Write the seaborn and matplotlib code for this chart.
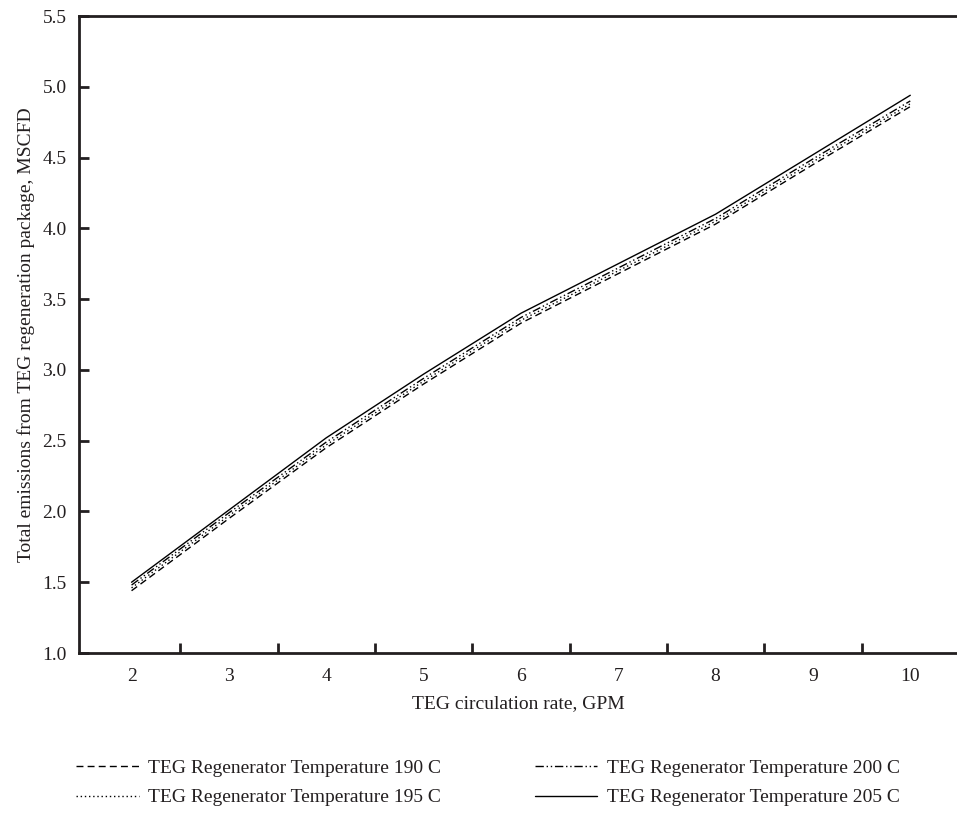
import matplotlib
matplotlib.use("Agg")
import matplotlib.pyplot as plt
import seaborn as sns
import pandas as pd
from matplotlib.lines import Line2D

rate = [2, 3, 4, 5, 6, 7, 8, 9, 10]
t190 = [1.44, 1.95, 2.45, 2.90, 3.33, 3.68, 4.03, 4.45, 4.86]
t195 = [1.46, 1.97, 2.47, 2.92, 3.35, 3.70, 4.05, 4.47, 4.88]
t200 = [1.48, 1.99, 2.49, 2.94, 3.37, 3.72, 4.07, 4.49, 4.90]
t205 = [1.50, 2.01, 2.52, 2.97, 3.40, 3.75, 4.10, 4.52, 4.94]
labels = ["TEG Regenerator Temperature 190 C",
          "TEG Regenerator Temperature 195 C",
          "TEG Regenerator Temperature 200 C",
          "TEG Regenerator Temperature 205 C"]
yticks = [1.0, 1.5, 2.0, 2.5, 3.0, 3.5, 4.0, 4.5, 5.0, 5.5]

FS = 14
sns.set_style("white")
plt.rcParams['font.family'] = ['Liberation Serif', 'DejaVu Serif']
plt.rcParams['font.size'] = FS

rows = []
for lab, vals in zip(labels, [t190, t195, t200, t205]):
    for x, y in zip(rate, vals):
        rows.append({"rate": x, "emis": y, "series": lab})
df = pd.DataFrame(rows)

dash_map = {labels[0]: (5, 3), labels[1]: (1, 2),
            labels[2]: (6, 2, 1, 2, 1, 2), labels[3]: ""}

fig = plt.figure(figsize=(9.57, 8.16), dpi=100)
ax = fig.add_axes([79/957, 1-653/816, 1-79/957, (653-16)/816])
sns.lineplot(data=df, x="rate", y="emis", style="series", dashes=dash_map,
             color="black", linewidth=1.0, ax=ax, legend=False)

ax.set_xlim(1.46, 10.48)
ax.set_ylim(1.0, 5.5)
ax.set_yticks(yticks)
ax.set_yticklabels([f"{v:.1f}" for v in yticks])
ax.set_xticks(rate)
ax.set_xticklabels([str(r) for r in rate])
ax.set_xticks([2.5, 3.5, 4.5, 5.5, 6.5, 7.5, 8.5, 9.5], minor=True)
ax.tick_params(axis="x", which="major", length=0, pad=11, labelsize=FS, colors="#231f20")
ax.tick_params(axis="x", which="minor", length=7, width=2, direction="in", bottom=True, color="#231f20")
ax.tick_params(axis="y", which="major", length=7, width=2, direction="in", left=True, pad=9, labelsize=FS, colors="#231f20")

for s in ["left", "bottom", "top"]:
    ax.spines[s].set_visible(True)
    ax.spines[s].set_linewidth(2)
    ax.spines[s].set_color("#231f20")
ax.spines["right"].set_visible(False)

ax.set_xlabel("TEG circulation rate, GPM", fontsize=FS, color="#231f20", labelpad=7)
ax.set_ylabel("Total emissions from TEG regeneration package, MSCFD", fontsize=FS, color="#231f20", labelpad=5)

handles = [Line2D([], [], color="black", lw=1.0, linestyle=(0, d) if d != "" else "-")
           for d in [dash_map[l] for l in labels]]
fig.legend(handles, labels, loc="center", bbox_to_anchor=(0.510, 1-783/816), ncol=2,
           frameon=False, handlelength=3.2, columnspacing=4.8, labelspacing=0.6,
           handletextpad=0.5, fontsize=FS, labelcolor="#231f20")

fig.savefig("out.png", dpi=100)
